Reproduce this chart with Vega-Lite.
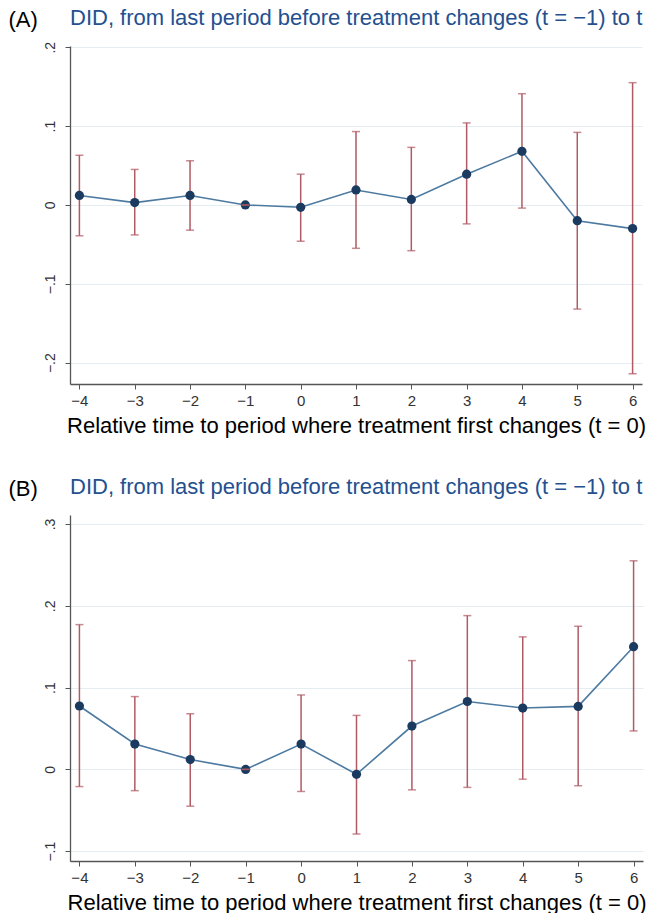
{
  "$schema": "https://vega.github.io/schema/vega-lite/v6.json",
  "padding": {"left": 8, "top": 7, "right": 5, "bottom": 0},
  "spacing": 40,
  "config": {
    "view": {"stroke": null},
    "font": "Liberation Sans"
  },
  "datasets": {
    "A": [
      {"t": -4, "est": 0.012, "lo": -0.039, "hi": 0.063},
      {"t": -3, "est": 0.003, "lo": -0.038, "hi": 0.045},
      {"t": -2, "est": 0.012, "lo": -0.032, "hi": 0.056},
      {"t": -1, "est": 0.0, "lo": 0.0, "hi": 0.0},
      {"t": 0, "est": -0.003, "lo": -0.046, "hi": 0.039},
      {"t": 1, "est": 0.019, "lo": -0.055, "hi": 0.093},
      {"t": 2, "est": 0.007, "lo": -0.058, "hi": 0.073},
      {"t": 3, "est": 0.039, "lo": -0.024, "hi": 0.104},
      {"t": 4, "est": 0.068, "lo": -0.004, "hi": 0.141},
      {"t": 5, "est": -0.020, "lo": -0.132, "hi": 0.092},
      {"t": 6, "est": -0.030, "lo": -0.214, "hi": 0.155}
    ],
    "B": [
      {"t": -4, "est": 0.0775, "lo": -0.021, "hi": 0.177},
      {"t": -3, "est": 0.031, "lo": -0.026, "hi": 0.089},
      {"t": -2, "est": 0.012, "lo": -0.045, "hi": 0.068},
      {"t": -1, "est": 0.0, "lo": 0.0, "hi": 0.0},
      {"t": 0, "est": 0.031, "lo": -0.027, "hi": 0.091},
      {"t": 1, "est": -0.006, "lo": -0.079, "hi": 0.066},
      {"t": 2, "est": 0.053, "lo": -0.025, "hi": 0.133},
      {"t": 3, "est": 0.083, "lo": -0.022, "hi": 0.188},
      {"t": 4, "est": 0.075, "lo": -0.012, "hi": 0.162},
      {"t": 5, "est": 0.077, "lo": -0.020, "hi": 0.175},
      {"t": 6, "est": 0.150, "lo": 0.047, "hi": 0.255}
    ]
  },
  "vconcat": [
    {
      "width": 572,
      "height": 338,
      "data": {"name": "A"},
      "title": {"text": "DID, from last period before treatment changes (t = −1) to t", "anchor": "start", "frame": "group", "fontSize": 22, "fontWeight": "normal", "color": "#24508f", "offset": -22},
      "encoding": {
        "x": {"field": "t", "type": "quantitative", "scale": {"domain": [-4.17, 6.17], "nice": false, "zero": false},
          "axis": {"values": [-4, -3, -2, -1, 0, 1, 2, 3, 4, 5, 6], "format": "d", "grid": false, "labelFontSize": 15, "labelColor": "#333", "labelPadding": 4, "tickSize": 5, "tickColor": "#555", "domainColor": "#555", "domainWidth": 1.3,
            "title": "Relative time to period where treatment first changes (t = 0)", "titleFontSize": 22, "titleFontWeight": "normal", "titleColor": "#000", "titlePadding": 7}}
      },
      "layer": [
        {"mark": {"type": "rule", "color": "#b05a64", "strokeWidth": 1.5},
         "encoding": {"y": {"field": "lo", "type": "quantitative", "scale": {"domain": [-0.227, 0.2015], "nice": false, "zero": false},
            "axis": {"values": [-0.2, -0.1, 0, 0.1, 0.2], "labelExpr": "datum.value == 0 ? '0' : replace(format(datum.value, '.1f'), '0.', '.')", "labelAngle": -90, "labelAlign": "center", "labelBaseline": "bottom", "labelFontSize": 14, "labelColor": "#333", "labelPadding": 8, "tickSize": 5, "tickColor": "#555", "domainColor": "#555", "domainWidth": 1.3, "grid": true, "gridColor": "#e4eef2", "gridWidth": 1.2,
              "title": "(A)", "titleAngle": 0, "titleX": -62, "titleY": -27, "titleAlign": "left", "titleBaseline": "middle", "titleFontSize": 22, "titleFontWeight": "normal", "titleColor": "#000"}},
           "y2": {"field": "hi"}}},
        {"mark": {"type": "line", "color": "#4d7aa0", "strokeWidth": 1.6},
         "encoding": {"y": {"field": "est", "type": "quantitative"}}},
        {"mark": {"type": "circle", "color": "#1b3a60", "size": 85, "opacity": 1},
         "encoding": {"y": {"field": "est", "type": "quantitative"}}},
        {"mark": {"type": "tick", "orient": "horizontal", "color": "#b05a64", "size": 8, "thickness": 1.5},
         "encoding": {"y": {"field": "lo", "type": "quantitative"}}},
        {"mark": {"type": "tick", "orient": "horizontal", "color": "#b05a64", "size": 8, "thickness": 1.5},
         "encoding": {"y": {"field": "hi", "type": "quantitative"}}}
      ]
    },
    {
      "width": 573,
      "height": 346,
      "data": {"name": "B"},
      "title": {"text": "DID, from last period before treatment changes (t = −1) to t", "anchor": "start", "frame": "group", "fontSize": 22, "fontWeight": "normal", "color": "#24508f", "offset": -22},
      "encoding": {
        "x": {"field": "t", "type": "quantitative", "scale": {"domain": [-4.17, 6.17], "nice": false, "zero": false},
          "axis": {"values": [-4, -3, -2, -1, 0, 1, 2, 3, 4, 5, 6], "format": "d", "grid": false, "labelFontSize": 15, "labelColor": "#333", "labelPadding": 4, "tickSize": 5, "tickColor": "#555", "domainColor": "#555", "domainWidth": 1.3,
            "title": "Relative time to period where treatment first changes (t = 0)", "titleFontSize": 22, "titleFontWeight": "normal", "titleColor": "#000", "titlePadding": 7}}
      },
      "layer": [
        {"mark": {"type": "rule", "color": "#b05a64", "strokeWidth": 1.5},
         "encoding": {"y": {"field": "lo", "type": "quantitative", "scale": {"domain": [-0.112, 0.311], "nice": false, "zero": false},
            "axis": {"values": [-0.1, 0, 0.1, 0.2, 0.3], "labelExpr": "datum.value == 0 ? '0' : replace(format(datum.value, '.1f'), '0.', '.')", "labelAngle": -90, "labelAlign": "center", "labelBaseline": "bottom", "labelFontSize": 14, "labelColor": "#333", "labelPadding": 8, "tickSize": 5, "tickColor": "#555", "domainColor": "#555", "domainWidth": 1.3, "grid": true, "gridColor": "#e4eef2", "gridWidth": 1.2,
              "title": "(B)", "titleAngle": 0, "titleX": -62, "titleY": -27, "titleAlign": "left", "titleBaseline": "middle", "titleFontSize": 22, "titleFontWeight": "normal", "titleColor": "#000"}},
           "y2": {"field": "hi"}}},
        {"mark": {"type": "line", "color": "#4d7aa0", "strokeWidth": 1.6},
         "encoding": {"y": {"field": "est", "type": "quantitative"}}},
        {"mark": {"type": "circle", "color": "#1b3a60", "size": 85, "opacity": 1},
         "encoding": {"y": {"field": "est", "type": "quantitative"}}},
        {"mark": {"type": "tick", "orient": "horizontal", "color": "#b05a64", "size": 8, "thickness": 1.5},
         "encoding": {"y": {"field": "lo", "type": "quantitative"}}},
        {"mark": {"type": "tick", "orient": "horizontal", "color": "#b05a64", "size": 8, "thickness": 1.5},
         "encoding": {"y": {"field": "hi", "type": "quantitative"}}}
      ]
    }
  ]
}
